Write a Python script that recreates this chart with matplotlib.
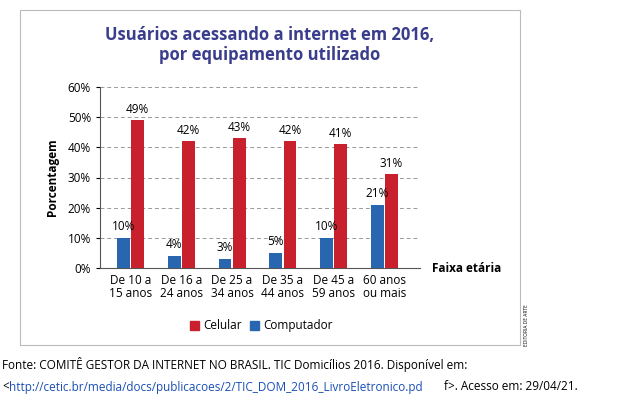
import matplotlib
matplotlib.use("Agg")
import matplotlib.pyplot as plt
from matplotlib.patches import Rectangle
import numpy as np

groups = ["De 10 a\n15 anos", "De 16 a\n24 anos", "De 25 a\n34 anos",
          "De 35 a\n44 anos", "De 45 a\n59 anos", "60 anos\nou mais"]
celular = [49, 42, 43, 42, 41, 31]
computador = [10, 4, 3, 5, 10, 21]

RED = "#c9202e"
BLUE = "#2866b0"
TITLE = "#3a3d8c"

plt.rcParams["font.family"] = ["Open Sans", "DejaVu Sans"]
fig = plt.figure(figsize=(6.36, 4.03), dpi=100)

# outer frame
fig.patches.append(Rectangle((20 / 636, 1 - 345 / 403), 500 / 636, 335 / 403,
                             transform=fig.transFigure, fill=False,
                             edgecolor="#bbbbbb", lw=0.8))

ax = fig.add_axes([100 / 636, 1 - 268 / 403, 320 / 636, 181 / 403])
x = np.arange(len(groups))
w = 0.25
ax.bar(x - 0.14, computador, w, color=BLUE, zorder=3)
ax.bar(x + 0.14, celular, w, color=RED, zorder=3)
for xi, c, p in zip(x, celular, computador):
    ax.text(xi + 0.14, c + 1.5, f"{c}%", ha="center", va="bottom", fontsize=8.5)
    ax.text(xi - 0.14, p + 1.5, f"{p}%", ha="center", va="bottom", fontsize=8.5)

ax.set_ylim(0, 60)
ax.set_xlim(-0.6, 5.7)
ax.set_yticks(range(0, 61, 10))
ax.set_yticklabels([f"{v}%" for v in range(0, 61, 10)], fontsize=8.5)
ax.set_xticks(x)
ax.set_xticklabels(groups, fontsize=8.5, linespacing=1.0)
ax.tick_params(axis="x", length=0, pad=4)
ax.tick_params(axis="y", length=3)
ax.yaxis.grid(True, ls=(0, (4, 3)), color="#999999", lw=0.7, zorder=0)
ax.set_axisbelow(True)
for s in ["top", "right"]:
    ax.spines[s].set_visible(False)
ax.spines["left"].set_color("#555555")
ax.spines["bottom"].set_color("#555555")
ax.set_ylabel("Porcentagem", fontsize=8.5, fontweight="bold", labelpad=6)

fig.text(432 / 636, 1 - 268 / 403, "Faixa etária", fontsize=8.5,
         fontweight="bold", va="center")
fig.text(270 / 636, 1 - 45 / 403, "Usuários acessando a internet em 2016,\npor equipamento utilizado",
         ha="center", va="center", fontsize=12, fontweight="bold", color=TITLE,
         linespacing=1.1)

# legend
for lx, col, lab in [(190, RED, "Celular"), (250, BLUE, "Computador")]:
    fig.patches.append(Rectangle((lx / 636, 1 - 330 / 403), 9 / 636, 9 / 403,
                                 transform=fig.transFigure, color=col))
    fig.text((lx + 13) / 636, 1 - 325.5 / 403, lab, fontsize=8.5, va="center")

fig.text(527 / 636, 1 - 325 / 403, "EDITORIA DE ARTE", fontsize=3.5,
         rotation=90, ha="center", va="center")

fig.text(2 / 636, 1 - 365 / 403,
         "Fonte: COMITÊ GESTOR DA INTERNET NO BRASIL. TIC Domicílios 2016. Disponível em:",
         fontsize=8.5, va="center")
t1 = fig.text(2 / 636, 1 - 387 / 403, "<", fontsize=8.5, va="center")
fig.text(9 / 636, 1 - 387 / 403,
         "http://cetic.br/media/docs/publicacoes/2/TIC_DOM_2016_LivroEletronico.pd",
         fontsize=8.5, va="center", color="#1a4fb5")
fig.text(441 / 636, 1 - 387 / 403, " f>. Acesso em: 29/04/21.",
         fontsize=8.5, va="center")

fig.savefig("out.png", dpi=100)
